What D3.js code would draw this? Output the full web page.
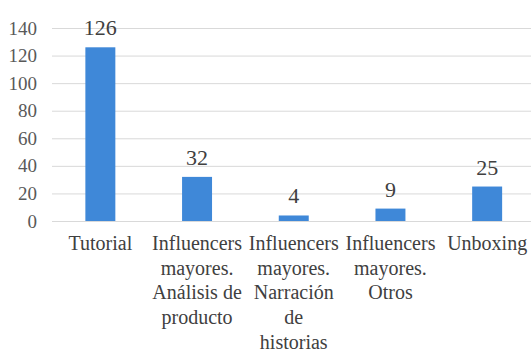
<!DOCTYPE html>
<html>
<head>
<meta charset="utf-8">
<script src="https://cdn.jsdelivr.net/npm/d3@7"></script>
</head>
<body>
<svg id="chart" width="531" height="353"></svg>
<script>
// chart data
let categories = ["Tutorial", "Influencers mayores. Análisis de producto", "Influencers mayores. Narración de historias", "Influencers mayores. Otros", "Unboxing"];
let labelLines = [
    ["Tutorial"],
    ["Influencers", "mayores.", "Análisis de", "producto"],
    ["Influencers", "mayores.", "Narración", "de", "historias"],
    ["Influencers", "mayores.", "Otros"],
    ["Unboxing"]
];
let values = [126, 32, 4, 9, 25];
let yTicks = [0, 20, 40, 60, 80, 100, 120, 140];

document.body.style.margin = "0";
let svg = d3.select("#chart");

let x = d3.scaleBand()
          .domain(categories)
          .range([52, 535.5])
          .paddingInner(0.69)
          .paddingOuter(0.345);

let y = d3.scaleLinear()
          .domain([0, 140])
          .range([221, 28]);

// gridlines
svg.append("g")
   .selectAll("line")
   .data(yTicks)
   .enter()
   .append("line")
   .attr("x1", 52)
   .attr("x2", 531)
   .attr("y1", d => y(d) + 0.5)
   .attr("y2", d => y(d) + 0.5)
   .attr("stroke", "#d9d9d9")
   .attr("stroke-width", 1);

// y tick labels
svg.append("g")
   .selectAll("text")
   .data(yTicks)
   .enter()
   .append("text")
   .attr("x", 37)
   .attr("y", d => y(d) + 6.5)
   .attr("text-anchor", "end")
   .style("font-family", "'Liberation Serif'")
   .attr("font-size", 19)
   .attr("fill", "#595959")
   .text(d => d);

// bars
svg.append("g")
   .selectAll("rect")
   .data(values)
   .enter()
   .append("rect")
   .attr("x", (d, i) => x(categories[i]))
   .attr("y", d => y(d))
   .attr("width", x.bandwidth())
   .attr("height", d => y(0) - y(d))
   .attr("fill", "#3f88d8");

// value labels
svg.append("g")
   .selectAll("text")
   .data(values)
   .enter()
   .append("text")
   .attr("x", (d, i) => x(categories[i]) + x.bandwidth() / 2)
   .attr("y", d => y(d) - 12)
   .attr("text-anchor", "middle")
   .style("font-family", "'Liberation Serif'")
   .attr("font-size", 22)
   .attr("fill", "#404040")
   .text(d => d);

// category labels
let cat = svg.append("g")
             .selectAll("text")
             .data(labelLines)
             .enter()
             .append("text")
             .attr("text-anchor", "middle")
             .style("font-family", "'Liberation Serif'")
             .attr("font-size", 20)
             .attr("fill", "#404040");

cat.selectAll("tspan")
   .data((lines, i) => lines.map(t => ({ t: t, cx: x(categories[i]) + x.bandwidth() / 2 })))
   .enter()
   .append("tspan")
   .attr("x", d => d.cx)
   .attr("y", (d, j) => 250 + j * 24.7)
   .text(d => d.t);
</script>
</body>
</html>
